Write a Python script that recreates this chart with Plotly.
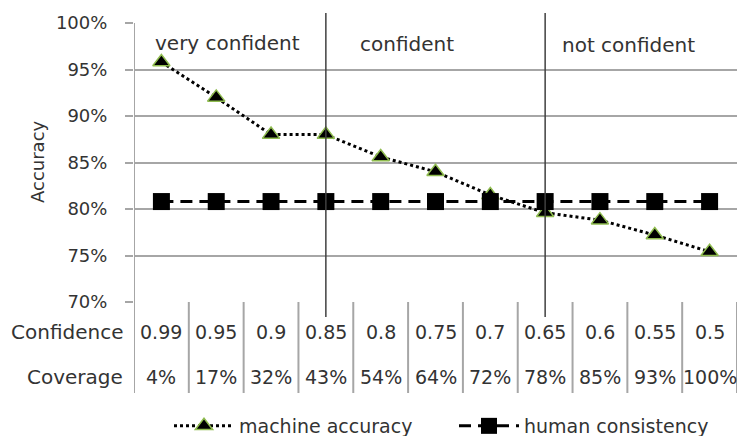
import plotly.graph_objects as go

confidence = ["0.99", "0.95", "0.9", "0.85", "0.8", "0.75", "0.7", "0.65", "0.6", "0.55", "0.5"]
coverage = ["4%", "17%", "32%", "43%", "54%", "64%", "72%", "78%", "85%", "93%", "100%"]
machine_accuracy = [95.8, 92.0, 88.0, 88.0, 85.6, 84.0, 81.5, 79.6, 78.8, 77.2, 75.4]
human_consistency = [80.8, 80.8, 80.8, 80.8, 80.8, 80.8, 80.8, 80.8, 80.8, 80.8, 80.8]
y_ticks = [70, 75, 80, 85, 90, 95, 100]
region_labels = ["very confident", "confident", "not confident"]
region_starts = [-0.15, 3.59, 7.27]
region_dividers = [3, 7]

FONT = "DejaVu Sans"
TXT = "#333333"
GRID = "#a6a6a6"
xs = list(range(len(confidence)))

fig = go.Figure()
fig.add_trace(go.Scatter(
    x=xs, y=machine_accuracy, name="machine accuracy", mode="lines+markers",
    line=dict(color="black", width=3, dash="dot"),
    marker=dict(symbol="triangle-up", size=15, color="black", line=dict(color="#8fbc4f", width=1.5)),
))
fig.add_trace(go.Scatter(
    x=xs, y=human_consistency, name="human consistency", mode="lines+markers",
    line=dict(color="black", width=3, dash="12px,7px"),
    marker=dict(symbol="square", size=17, color="black"),
))

shapes = []
table_bottom = -(393 - 302) / 279
for i in range(len(confidence) + 1):
    shapes.append(dict(type="line", xref="x", yref="paper", x0=i - 0.5, x1=i - 0.5,
                       y0=table_bottom, y1=(1 if i == 0 else 0), line=dict(color=GRID, width=2)))
for d in region_dividers:
    shapes.append(dict(type="line", xref="x", yref="paper", x0=d, x1=d,
                       y0=-15 / 279, y1=1 + 10 / 279, line=dict(color="#404040", width=1.5)))

ann = []
row_conf = -(332 - 302) / 279
row_cov = -(377 - 302) / 279
for i, (c, v) in enumerate(zip(confidence, coverage)):
    ann.append(dict(x=i, y=row_conf, xref="x", yref="paper", text=c, showarrow=False,
                    xanchor="center", yanchor="middle", font=dict(family=FONT, size=19, color=TXT)))
    ann.append(dict(x=i, y=row_cov, xref="x", yref="paper", text=v, showarrow=False,
                    xanchor="center", yanchor="middle", font=dict(family=FONT, size=19, color=TXT)))
ann.append(dict(x=-9 / 603, y=row_conf, xref="paper", yref="paper", text="Confidence", xanchor="right",
                yanchor="middle", showarrow=False, font=dict(family=FONT, size=20, color=TXT)))
ann.append(dict(x=-9 / 603, y=row_cov, xref="paper", yref="paper", text="Coverage", xanchor="right",
                yanchor="middle", showarrow=False, font=dict(family=FONT, size=20, color=TXT)))
for lbl, xs0, yy in zip(region_labels, region_starts, [97.85, 97.7, 97.6]):
    ann.append(dict(x=xs0, y=yy, xref="x", yref="y", text=lbl, xanchor="left", yanchor="middle",
                    showarrow=False, font=dict(family=FONT, size=20, color=TXT)))
ann.append(dict(x=(37 - 134) / 603, y=(302 - 162) / 279, xref="paper", yref="paper", text="Accuracy",
                textangle=-90, xanchor="center", yanchor="middle",
                showarrow=False, font=dict(family=FONT, size=18, color=TXT)))

fig.update_layout(
    width=737, height=436,
    margin=dict(l=134, r=0, t=23, b=134, autoexpand=False),
    paper_bgcolor="white", plot_bgcolor="white",
    showlegend=True,
    legend=dict(orientation="h", x=(169 - 134) / 603, xanchor="left", y=-(426 - 302) / 279, yanchor="middle",
                font=dict(family=FONT, size=19, color=TXT), itemwidth=60, bgcolor="rgba(0,0,0,0)",
                entrywidth=210, entrywidthmode="pixels"),
    xaxis=dict(range=[-0.5, 10.5], showgrid=False, showticklabels=False, zeroline=False, showline=False),
    yaxis=dict(range=[70, 100], tickvals=y_ticks, ticktext=[f"{t}%" for t in y_ticks],
               showgrid=True, gridcolor=GRID, gridwidth=2, zeroline=False, showline=False,
               ticks="outside", ticklen=8, tickcolor=GRID, tickwidth=2, ticklabelstandoff=14,
               tickfont=dict(family=FONT, size=18, color=TXT)),
    shapes=shapes, annotations=ann,
)
fig.write_html("out.html", config={"displayModeBar": False},
               post_script="document.body.style.margin='0px';")
